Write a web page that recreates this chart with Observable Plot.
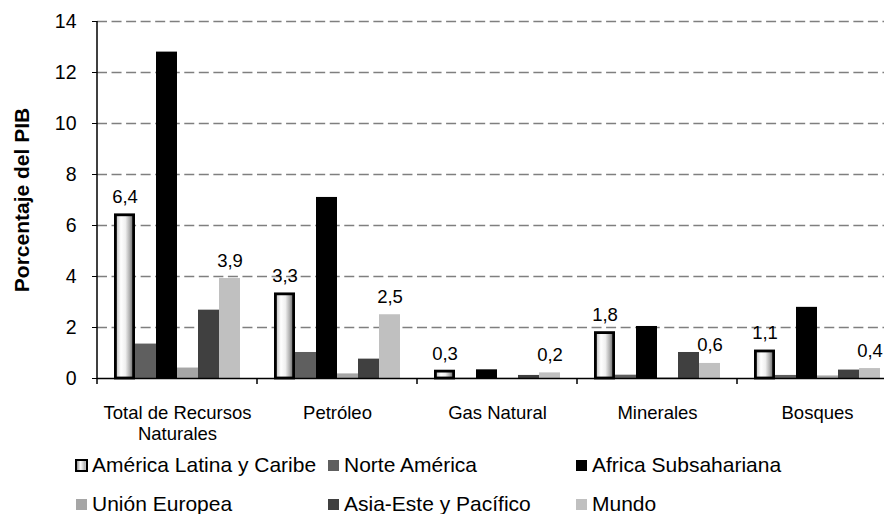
<!DOCTYPE html>
<html>
<head>
<meta charset="utf-8">
<script src="https://cdn.jsdelivr.net/npm/d3@7"></script>
<script src="https://cdn.jsdelivr.net/npm/@observablehq/plot@0.6"></script>
<style>
html, body { margin: 0; padding: 0; background: #fff; overflow: hidden; }
#wrap { position: relative; width: 884px; height: 514px; overflow: hidden; background: #fff;
  font-family: "Liberation Sans", Arial, sans-serif; }
#wrap svg { position: absolute; left: 0; top: 0; }
#wrap svg [aria-label="y-axis label"] text { font-weight: bold; font-size: 21px; }
.leg { position: absolute; font-size: 21px; line-height: 21px; white-space: nowrap; color: #000; }
.sw { position: absolute; box-sizing: border-box; }
</style>
</head>
<body>
<div id="wrap"></div>
<script>
// ---- data ----
const categories = ["Total de Recursos Naturales", "Petróleo", "Gas Natural", "Minerales", "Bosques"];
const categoryLabels = ["Total de Recursos\nNaturales", "Petróleo", "Gas Natural", "Minerales", "Bosques"];
const series = ["América Latina y Caribe", "Norte América", "Africa Subsahariana", "Unión Europea", "Asia-Este y Pacífico", "Mundo"];
const seriesColors = ["#e8e8e8", "#5f5f5f", "#000000", "#a6a6a6", "#404040", "#c0c0c0"];
const americaLatina = [6.4, 3.3, 0.27, 1.78, 1.06];
const norteAmerica = [1.35, 1.02, 0.01, 0.13, 0.12];
const africaSub = [12.8, 7.1, 0.34, 2.04, 2.79];
const unionEuropea = [0.41, 0.18, 0.01, 0.03, 0.1];
const asiaEste = [2.68, 0.76, 0.12, 1.02, 0.33];
const mundo = [3.92, 2.5, 0.22, 0.59, 0.39];
const labeledSeries = ["América Latina y Caribe", "Mundo"];
const yTicks = [0, 2, 4, 6, 8, 10, 12, 14];
const gridTicks = [2, 4, 6, 8, 10, 12, 14];

const seriesValues = [americaLatina, norteAmerica, africaSub, unionEuropea, asiaEste, mundo];
const data = [];
categories.forEach((c, i) => series.forEach((s, j) => data.push({cat: c, serie: s, value: seriesValues[j][i]})));
const fmt = v => d3.format(".1f")(v).replace(".", ",");

const font = '"Liberation Sans", Arial, sans-serif';
const chart = Plot.plot({
  width: 884,
  height: 446,
  marginTop: 21,
  marginBottom: 68,
  marginLeft: 97,
  marginRight: 0,
  style: {fontFamily: font, fontSize: "18.5px", color: "#000", background: "transparent", overflow: "visible"},
  fx: {domain: categories, range: [97, 897], padding: 0, label: null},
  x: {domain: series, paddingInner: 0, paddingOuter: 0.69, axis: null},
  y: {domain: [0, 14], label: null},
  color: {domain: series, range: seriesColors},
  marks: [
    Plot.ruleY(gridTicks, {stroke: "#7f7f7f", strokeWidth: 1.5, strokeDasharray: "10,4.545"}),
    Plot.barY(data.filter(d => d.serie !== series[0]), {fx: "cat", x: "serie", y: "value", fill: "serie"}),
    Plot.barY(data.filter(d => d.serie === series[0]), {fx: "cat", x: "serie", y: "value",
      fill: "url(#alcGrad)", stroke: "#000", strokeWidth: 2.8, insetLeft: 1.4, insetRight: 1.4}),
    Plot.ruleY([0], {stroke: "#000", strokeWidth: 1.5}),
    Plot.text(data.filter(d => labeledSeries.includes(d.serie)), {fx: "cat", x: "serie", y: "value",
      text: d => fmt(d.value), dy: -12, lineAnchor: "bottom", fontSize: 18.5, fill: "#000"}),
    Plot.axisY({ticks: yTicks, tickSize: 5, tickPadding: 16, fontSize: 19.5, tickFormat: d => String(d),
      label: "Porcentaje del PIB", labelAnchor: "center", labelArrow: false, labelOffset: 83}),
    Plot.axisFx({anchor: "bottom", tickSize: 0, tickPadding: 26, fontSize: 18.5, lineHeight: 1.12,
      tickFormat: c => categoryLabels[categories.indexOf(c)], label: null})
  ]
});

const wrap = document.getElementById("wrap");
wrap.appendChild(chart);

// gradient for the bevelled "América Latina y Caribe" bars
const svg = d3.select(chart);
const defs = svg.insert("defs", ":first-child");
const g = defs.append("linearGradient").attr("id", "alcGrad").attr("x1", "0").attr("x2", "1").attr("y1", "0").attr("y2", "0");
[[0, "#8e8e8e"], [0.1, "#cfcfcf"], [0.3, "#ffffff"], [0.55, "#f0f0f0"], [0.78, "#b0b0b0"], [0.9, "#858585"], [1, "#c0c0c0"]]
  .forEach(([o, c]) => g.append("stop").attr("offset", o).attr("stop-color", c));

// y-axis line and category boundary ticks, positioned with Plot's own scales
const fxS = chart.scale("fx"), yS = chart.scale("y");
const y0 = yS.apply(0), yTop = yS.apply(14);
const x0 = fxS.apply(categories[0]);
const axes = svg.append("g").attr("stroke", "#000").attr("stroke-width", 1.5);
axes.append("line").attr("x1", x0).attr("x2", x0).attr("y1", y0 + 0.75).attr("y2", yTop);
const bounds = categories.map(c => fxS.apply(c)).concat([fxS.apply(categories[categories.length - 1]) + fxS.bandwidth]);
bounds.forEach(b => axes.append("line").attr("x1", b).attr("x2", b).attr("y1", y0).attr("y2", y0 + 6));

// legend (HTML, below the SVG)
const legCols = [75, 327, 575];
const legRows = [454, 493];
series.forEach((s, i) => {
  const col = i % 3, row = Math.floor(i / 3);
  const sw = document.createElement("div");
  sw.className = "sw";
  const size = i === 0 ? 13 : 11;
  sw.style.left = (legCols[col] + (i === 0 ? 0 : 1)) + "px";
  sw.style.top = (legRows[row] + (i === 0 ? 5 : 6)) + "px";
  sw.style.width = size + "px";
  sw.style.height = size + "px";
  if (i === 0) {
    sw.style.border = "2px solid #000";
    sw.style.background = "linear-gradient(90deg,#9a9a9a,#ffffff 40%,#b8b8b8 85%,#c8c8c8)";
  } else {
    sw.style.background = seriesColors[i];
  }
  wrap.appendChild(sw);
  const t = document.createElement("div");
  t.className = "leg";
  t.style.left = (legCols[col] + 17) + "px";
  t.style.top = legRows[row] + "px";
  t.textContent = s;
  wrap.appendChild(t);
});
</script>
</body>
</html>
